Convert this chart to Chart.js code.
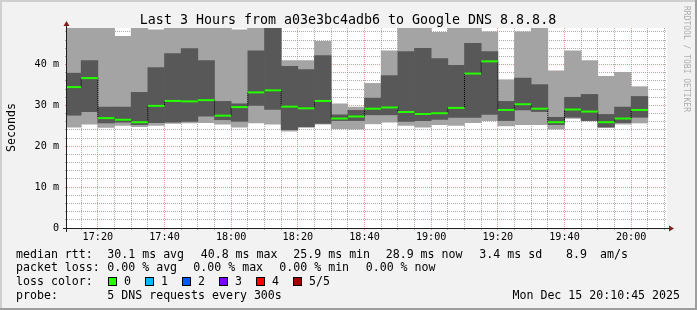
<!DOCTYPE html>
<html>
<head>
<meta charset="utf-8">
<title>smokeping 3h</title>
<script src="https://cdn.jsdelivr.net/npm/chart.js@4.4.1/dist/chart.umd.min.js"></script>
<style>
html, body { margin:0; padding:0; background:#f2f2f2; }
#wrap { width:697px; height:310px; }
</style>
</head>
<body>
<div id="wrap"><canvas id="smoke" width="697" height="310"></canvas></div>
<script>
'use strict';
//---------------- data ----------------
var viewStart = '17:10:45', viewEnd = '20:10:45', stepMin = 5;
// each sample closes a 5 minute step
var sampleTimes = ['17:15','17:20','17:25','17:30','17:35','17:40','17:45','17:50','17:55','18:00',
  '18:05','18:10','18:15','18:20','18:25','18:30','18:35','18:40','18:45','18:50',
  '18:55','19:00','19:05','19:10','19:15','19:20','19:25','19:30','19:35','19:40',
  '19:45','19:50','19:55','20:00','20:05'];
// 5 pings per step, sorted: min, 2nd, median, 4th, max (ms)
var pingMax = [52, 52, 52, 46.9, 52, 48.5, 52, 52, 52, 52, 48.5, 52, 53, 41.0, 41.0, 45.7, 30.4, 29.6, 35.4, 43.4,
  52, 52, 47.9, 52, 52, 48.0, 36.3, 48.0, 49.5, 38.5, 43.4, 41.0, 37.1, 38.1, 34.6];
var pingHigh = [37.9, 41.0, 29.6, 29.6, 33.2, 39.3, 42.7, 43.9, 41.0, 31.0, 30.4, 43.4, 50, 39.6, 38.8, 42.2, 27.7, 28.8, 31.8, 37.3,
  43.2, 44.0, 41.5, 39.8, 45.2, 43.2, 31.0, 36.7, 35.1, 27.1, 32.0, 32.7, 27.8, 29.6, 32.2];
var pingMedian = [34.5, 36.7, 26.9, 26.5, 25.9, 29.9, 31.1, 31.0, 31.3, 27.5, 29.6, 33.2, 33.7, 29.7, 29.3, 31.1, 26.8, 27.3, 29.2, 29.5,
  28.4, 27.9, 28.1, 29.4, 37.8, 40.8, 28.9, 30.3, 29.2, 25.9, 29.0, 28.5, 25.9, 26.8, 28.9];
var pingLow = [27.6, 28.5, 25.7, 25.9, 25.3, 25.8, 25.9, 26.1, 27.4, 26.5, 26.1, 30.0, 29.0, 24.1, 24.8, 25.6, 26.3, 26.3, 27.7, 27.7,
  26.1, 26.3, 26.6, 27.1, 27.1, 27.8, 26.3, 28.9, 28.5, 25.3, 27.1, 26.3, 24.7, 25.8, 27.1];
var pingMin = [24.7, 25.4, 24.6, 25.1, 24.8, 25.1, 25.6, 25.7, 25.8, 25.4, 24.7, 25.7, 25.4, 23.7, 24.6, 25.4, 24.3, 24.2, 25.5, 25.9,
  25.1, 24.7, 25.3, 25.1, 25.8, 26.3, 25.0, 25.3, 25.3, 24.2, 26.8, 26.2, 24.6, 25.4, 25.7];

var yUpper = 48.96;
var yLabelValues = [0, 10, 20, 30, 40];
var yLabels = ['0', '10 m', '20 m', '30 m', '40 m'];
var xLabels = ['17:20', '17:40', '18:00', '18:20', '18:40', '19:00', '19:20', '19:40', '20:00'];

var titleText = 'Last 3 Hours from a03e3bc4adb6 to Google DNS 8.8.8.8';
var unitText = 'Seconds';
var watermarkText = 'RRDTOOL / TOBI OETIKER';
var rttLegend = ['median rtt:', '30.1 ms avg', '40.8 ms max', '25.9 ms min', '28.9 ms now', '3.4 ms sd', '8.9', 'am/s'];
var lossLegend = ['packet loss:', '0.00 % avg', '0.00 % max', '0.00 % min', '0.00 % now'];
var lossColorTitle = 'loss color:';
var lossLabels = ['0', '1', '2', '3', '4', '5/5'];
var probeLegend = ['probe:', '5 DNS requests every 300s'];
var stampText = 'Mon Dec 15 20:10:45 2025';

//---------------- helpers ----------------
var toMin, fmtMin, isMult, gridTicks, centers, range, rrdDecor, initChart;

toMin = function (s) {
  var p = s.split(':');
  return (+p[0]) * 60 + (+p[1]) + (p[2] ? (+p[2]) / 60 : 0);
};
fmtMin = function (v) {
  var h = Math.floor(v / 60), m = Math.round(v - h * 60);
  return h + ':' + (m < 10 ? '0' : '') + m;
};
isMult = function (v, step) {
  return Math.abs(v / step - Math.round(v / step)) < 1e-6;
};
// rrdtool style grid: one tick per whole step inside the scale range
gridTicks = function (step) {
  return function (s) {
    var t = [], v = Math.ceil(s.min / step - 1e-9) * step;
    for (; v <= s.max + 1e-9; v += step) t.push({ value: v });
    s.ticks = t;
  };
};

centers = sampleTimes.map(function (t) { return toMin(t) - stepMin / 2; });

range = function (lo, hi) {
  return centers.map(function (x, i) { return { x: x, y: [lo[i], hi[i]] }; });
};

var minorCol = 'rgba(143,143,143,0.75)';
var majorCol = 'rgba(222,79,79,0.6)';
var monoFont = '"DejaVu Sans Mono", "Liberation Mono", monospace';

//---------------- frame, axes and legend text ----------------
rrdDecor = {
  id: 'rrdDecor',
  beforeDraw: function (chart) {
    var c = chart.ctx, a = chart.chartArea;
    c.save();
    c.fillStyle = '#f2f2f2';
    c.fillRect(0, 0, 697, 310);
    c.fillStyle = '#cfcfcf';
    c.fillRect(0, 0, 697, 2);
    c.fillRect(0, 0, 2, 310);
    c.fillStyle = '#9e9e9e';
    c.fillRect(0, 308, 697, 2);
    c.fillRect(695, 0, 2, 310);
    c.fillStyle = '#ffffff';
    c.fillRect(a.left, a.top, a.right - a.left, a.bottom - a.top);
    c.restore();
  },
  afterDraw: function (chart) {
    var c = chart.ctx, a = chart.chartArea, i;
    c.save();
    // axes
    c.strokeStyle = '#1f1f1f';
    c.lineWidth = 1;
    c.beginPath();
    c.moveTo(a.left - 4, a.bottom + 0.5);
    c.lineTo(a.right + 4, a.bottom + 0.5);
    c.moveTo(a.left - 0.5, a.bottom + 4);
    c.lineTo(a.left - 0.5, a.top - 4);
    c.stroke();
    c.fillStyle = '#801f1f';
    c.beginPath();
    c.moveTo(a.right + 2, a.bottom - 2.5);
    c.lineTo(a.right + 2, a.bottom + 3.5);
    c.lineTo(a.right + 7, a.bottom + 0.5);
    c.closePath();
    c.fill();
    c.beginPath();
    c.moveTo(a.left - 3.5, a.top - 2);
    c.lineTo(a.left + 2.5, a.top - 2);
    c.lineTo(a.left - 0.5, a.top - 7);
    c.closePath();
    c.fill();

    // title
    c.fillStyle = '#000';
    c.textBaseline = 'alphabetic';
    c.textAlign = 'center';
    c.font = '13.3px ' + monoFont;
    c.fillText(titleText, 348, 24);

    // unit label, bottom to top
    c.save();
    c.translate(15, 127.5);
    c.rotate(-Math.PI / 2);
    c.font = '11.6px ' + monoFont;
    c.fillText(unitText, 0, 0);
    c.restore();

    // watermark, top to bottom
    c.save();
    c.translate(684, 59);
    c.rotate(Math.PI / 2);
    c.font = '8px ' + monoFont;
    c.fillStyle = 'rgba(0,0,0,0.3)';
    c.fillText(watermarkText, 0, 0);
    c.restore();

    // legend rows
    c.textAlign = 'left';
    c.font = '11.6px ' + monoFont;
    var rttX = [16, 107.3, 200.7, 293.3, 385.7, 479.3, 566, 600];
    for (i = 0; i < rttLegend.length; i++) c.fillText(rttLegend[i], rttX[i], 257.5);
    var lossX = [16, 107.3, 193.3, 279.3, 365.7];
    for (i = 0; i < lossLegend.length; i++) c.fillText(lossLegend[i], lossX[i], 271.4);
    c.fillText(lossColorTitle, 16, 285.3);
    var boxX = [108.5, 145.5, 182.5, 219.5, 256.5, 293.5];
    var boxCol = ['#26ff00', '#00b8ff', '#0059ff', '#7e00ff', '#ff0000', '#a10000'];
    for (i = 0; i < lossLabels.length; i++) {
      c.fillStyle = boxCol[i];
      c.fillRect(boxX[i], 277.5, 8, 8);
      c.strokeStyle = '#000';
      c.strokeRect(boxX[i], 277.5, 8, 8);
      c.fillStyle = '#000';
      c.fillText(lossLabels[i], boxX[i] + 15.5, 285.3);
    }
    c.fillText(probeLegend[0], 16, 299.2);
    c.fillText(probeLegend[1], 107.3, 299.2);
    c.textAlign = 'right';
    c.fillText(stampText, 680, 299.2);
    c.restore();
  }
};

initChart = function () {
  var ctx = document.getElementById('smoke').getContext('2d');
  var tickFont = { family: monoFont, size: 10.15 };
  var halfStep = function (context) {
    var s = context.chart.scales.x;
    return (s.getPixelForValue(stepMin) - s.getPixelForValue(0)) / 2;
  };
  window.smokeChart = new Chart(ctx, {
    data: {
      datasets: [
        { // median marks
          type: 'line', order: 0, clip: 0,
          data: centers.map(function (x, i) { return { x: x, y: pingMedian[i] }; }),
          showLine: false,
          pointStyle: 'line', pointRadius: halfStep,
          pointBorderColor: '#26ff00', pointBorderWidth: 2,
          pointBackgroundColor: '#26ff00'
        },
        { // step connectors between medians
          type: 'line', order: 1, clip: 0,
          data: centers.map(function (x, i) { return { x: x, y: pingMedian[i] }; }),
          stepped: 'middle', borderColor: '#000', borderWidth: 1, borderDash: [1, 1],
          pointRadius: 0, fill: false
        },
        { // inner smoke
          type: 'bar', order: 2, clip: 0, grouped: false,
          data: range(pingLow, pingHigh),
          backgroundColor: '#585858', borderWidth: 0,
          categoryPercentage: 1, barPercentage: 1
        },
        { // outer smoke
          type: 'bar', order: 3, clip: 0, grouped: false,
          data: range(pingMin, pingMax),
          backgroundColor: '#a4a4a4', borderWidth: 0,
          categoryPercentage: 1, barPercentage: 1
        }
      ]
    },
    options: {
      responsive: false,
      animation: false,
      events: [],
      layout: { padding: { left: 0, top: 28, right: 30, bottom: 62 } },
      plugins: { legend: { display: false }, tooltip: { enabled: false } },
      scales: {
        x: {
          type: 'linear', z: 1, offset: false,
          min: toMin(viewStart), max: toMin(viewEnd),
          afterBuildTicks: gridTicks(stepMin),
          afterFit: function (s) { s.height = 20; },
          ticks: {
            autoSkip: false, maxRotation: 0, padding: 1,
            color: '#000', font: tickFont,
            callback: function (v) {
              var lbl = fmtMin(v);
              return xLabels.indexOf(lbl) >= 0 ? lbl : '';
            }
          },
          grid: {
            offset: false,
            color: function (c) {
              return c.tick && isMult(c.tick.value, 20) ? majorCol : minorCol;
            },
            lineWidth: 1, tickLength: 2
          },
          border: { display: false, dash: [1, 1] }
        },
        y: {
          type: 'linear', z: 1,
          min: 0, max: yUpper,
          afterBuildTicks: gridTicks(2),
          afterFit: function (s) { s.width = 67; },
          ticks: {
            autoSkip: false, padding: 6,
            color: '#000', font: tickFont,
            callback: function (v) {
              var k = yLabelValues.indexOf(Math.round(v));
              return (k >= 0 && isMult(v, 10)) ? yLabels[k] : '';
            }
          },
          grid: {
            color: function (c) {
              return c.tick && isMult(c.tick.value, 10) ? majorCol : minorCol;
            },
            lineWidth: 1, tickLength: 2
          },
          border: { display: false, dash: [1, 1] }
        }
      }
    },
    plugins: [rrdDecor]
  });
};

initChart();
</script>
</body>
</html>
